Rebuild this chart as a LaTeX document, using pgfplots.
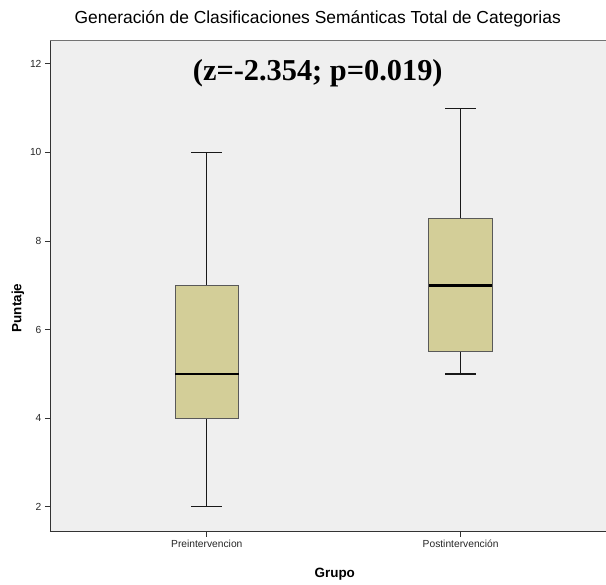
\documentclass[border=0pt]{standalone}
\usepackage{pgfplots}
\pgfplotsset{compat=1.18}
\usepgfplotslibrary{statistics}
\usepackage{fontspec}
\setmainfont{Liberation Sans}
\newfontfamily\serifb{Liberation Serif}
\definecolor{bg}{HTML}{EFEFEF}
\definecolor{boxfill}{HTML}{D3CE98}
\begin{document}
\begin{tikzpicture}
\begin{axis}[
  scale only axis, width=556bp, height=492bp,
  xmin=0.382, xmax=2.571, ymin=1.44, ymax=12.54,
  axis lines*=left,
  axis line style={black!80, line width=0.9bp},
  axis background/.style={fill=bg},
  xtick={1,2}, xticklabels={Preintervencion, Postintervención},
  ytick={2,4,6,8,10,12},
  tick align=outside, major tick length=5bp,
  tick style={black!80, line width=0.9bp},
  ticklabel style={font=\fontsize{10.3}{12}\selectfont, text=black!85},
  /pgf/number format/assume math mode=true,
  xlabel={Grupo}, ylabel={Puntaje},
  label style={font=\fontsize{13.5}{15}\selectfont\bfseries},
  xlabel style={at={(axis description cs:0.5126,-0.0874)}, anchor=center},
  ylabel style={at={(axis description cs:-0.0576,0.455)}, anchor=center},
  title={Generación de Clasificaciones Semánticas Total de Categorias},
  title style={font=\fontsize{17.5}{19}\selectfont, at={(axis description cs:0.482,1)}, anchor=center, yshift=15bp, draw=none, text=black, line width=0.25bp},
  boxplot/draw direction=y,
  boxplot/box extend=0.25, boxplot/whisker extend=0.123,
  boxplot/every median/.style={line width=2.6bp, draw=black},
  boxplot/every whisker/.style={line width=1.3bp, draw=black!90},
  boxplot/every box/.style={line width=1.1bp, draw=black!65, fill=boxfill},
  clip=false,
]
\addplot[boxplot prepared={lower whisker=2, lower quartile=4, median=5, upper quartile=7, upper whisker=10, draw position=1}] coordinates {};
\addplot[boxplot prepared={lower whisker=5, lower quartile=5.5, median=7, upper quartile=8.5, upper whisker=11, draw position=2}] coordinates {};
\draw[black!55, line width=0.9bp] (rel axis cs:0,1) -- (rel axis cs:1,1);
\node[font=\serifb\bfseries\fontsize{30.5}{34}\selectfont] at (axis cs:1.437,11.8) {(z=-2.354; p=0.019)};
\end{axis}
\path[use as bounding box] ([xshift=-50bp,yshift=-53bp]current axis.south west) rectangle ([yshift=40bp]current axis.north east);
\end{tikzpicture}
\end{document}
